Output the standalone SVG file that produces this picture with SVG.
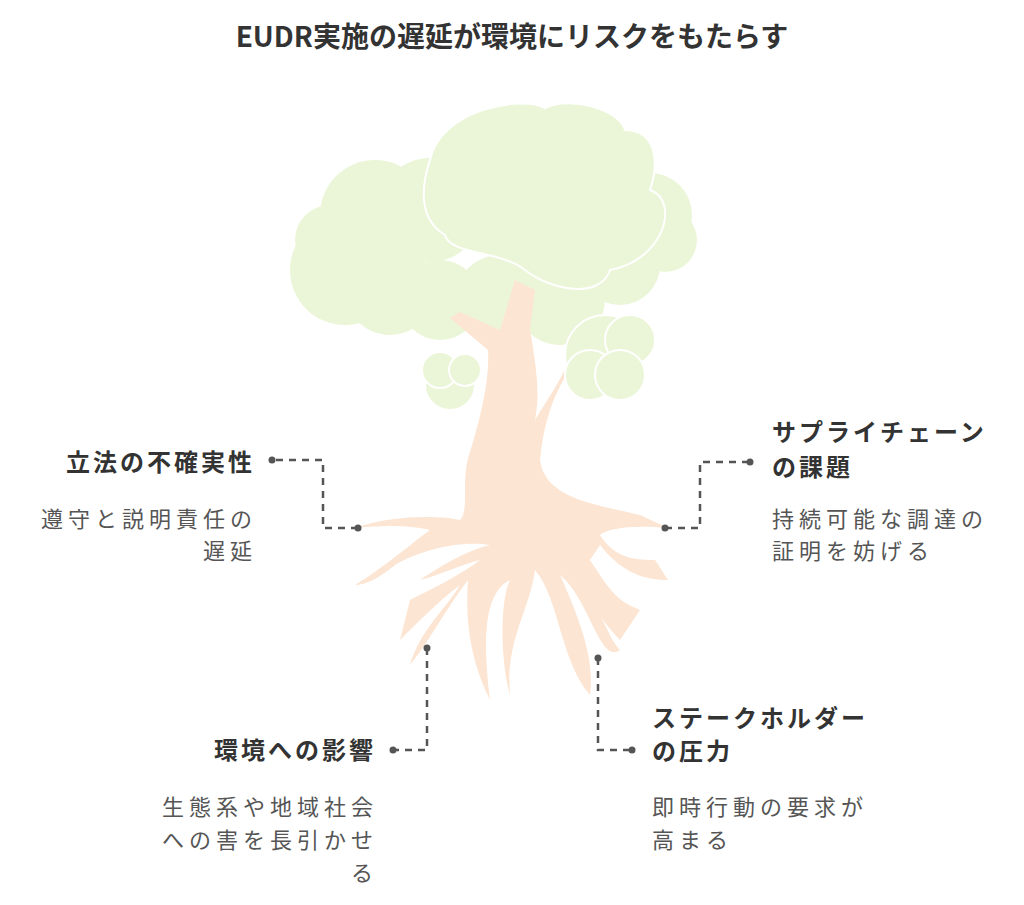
<svg xmlns="http://www.w3.org/2000/svg" width="1024" height="905" viewBox="0 0 1024 905">
<style>
.t{font-family:"Noto Sans CJK JP","Noto Sans",sans-serif;font-weight:700;font-size:24px;letter-spacing:3px;fill:#333}
.d{font-family:"Noto Sans CJK JP","Noto Sans",sans-serif;font-size:22px;letter-spacing:5px;fill:#555}
.c{fill:none;stroke:#555;stroke-width:2.5;stroke-dasharray:7 6}
.f{fill:#ebf6d8}
.fs{fill:#ebf6d8;stroke:#fff;stroke-width:2}
.tr{fill:#fce5d2}
</style>
<rect width="1024" height="905" fill="#fff"/>
<text x="512" y="47" text-anchor="middle" class="t" style="font-size:28px;letter-spacing:0">EUDR実施の遅延が環境にリスクをもたらす</text>
<g id="tree">
<g class="f">
<circle cx="375" cy="215" r="55"/><circle cx="430" cy="210" r="52"/><circle cx="345" cy="270" r="55"/><circle cx="390" cy="290" r="45"/><circle cx="440" cy="300" r="40"/><circle cx="330" cy="240" r="35"/>
<circle cx="500" cy="300" r="45"/><circle cx="560" cy="300" r="45"/><circle cx="620" cy="265" r="40"/><circle cx="650" cy="215" r="42"/><circle cx="665" cy="240" r="32"/>
</g>
<path class="tr" d="M470 452 C480 420 490 380 488 350 L450 318 L460 312 L500 330 L515 280 L535 290 L530 330 C537 370 540 395 535 420 C550 395 565 375 575 345 L583 352 C560 380 545 410 540 460 C545 500 600 505 640 515 L668 528 C630 525 610 528 600 535 C615 560 640 560 655 560 L668 580 C640 580 620 570 600 545 L590 560 C610 590 615 600 640 610 L620 640 C600 620 590 600 580 580 C605 620 610 640 620 650 C600 665 590 600 560 575 C580 620 595 660 590 695 C560 660 560 600 535 570 C530 610 505 640 510 695 C500 660 500 600 510 580 C490 590 480 620 490 700 C470 660 465 620 468 580 C445 610 430 640 410 665 C420 630 445 610 460 585 C440 600 420 620 400 640 L410 600 C440 585 460 575 480 560 C460 565 440 575 420 580 C450 560 470 550 490 545 C460 540 420 550 395 565 C380 578 365 585 355 585 C380 570 410 545 430 530 C410 525 380 525 355 528 C390 515 440 515 460 520 C470 510 460 480 470 452 Z"/>
<g class="fs">
<path d="M430 160 C440 110 520 95 545 108 C570 95 620 110 625 130 C655 130 660 160 650 190 C680 200 665 260 610 270 C600 300 550 290 525 270 C500 250 450 255 445 235 C420 220 420 190 430 160 Z"/>
<circle cx="450" cy="385" r="25"/><circle cx="440" cy="370" r="18"/><circle cx="465" cy="370" r="16"/>
<circle cx="605" cy="355" r="40"/><circle cx="630" cy="340" r="25"/><circle cx="590" cy="375" r="25"/><circle cx="620" cy="375" r="25"/>
</g>
</g>
<g id="connectors" fill="#555">
<path class="c" d="M358 528 H323 V460 H272"/><circle cx="358" cy="528" r="3.5"/><circle cx="272" cy="460" r="3.5"/>
<path class="c" d="M665 528 H700 V462 H750"/><circle cx="665" cy="528" r="3.5"/><circle cx="750" cy="462" r="3.5"/>
<path class="c" d="M427 648 V750 H393"/><circle cx="427" cy="648" r="3.5"/><circle cx="393" cy="750" r="3.5"/>
<path class="c" d="M598 658 V750 H632"/><circle cx="598" cy="658" r="3.5"/><circle cx="632" cy="750" r="3.5"/>
</g>
<g id="n1"><text x="255" y="471" text-anchor="end" class="t">立法の不確実性</text>
<text x="257" y="527" text-anchor="end" class="d">遵守と説明責任の</text><text x="257" y="559" text-anchor="end" class="d">遅延</text></g>
<g id="n2"><text x="772" y="441" class="t">サプライチェーン</text><text x="772" y="476" class="t">の課題</text>
<text x="772" y="527" class="d">持続可能な調達の</text><text x="772" y="559" class="d">証明を妨げる</text></g>
<g id="n3"><text x="376" y="759" text-anchor="end" class="t">環境への影響</text>
<text x="378" y="815" text-anchor="end" class="d">生態系や地域社会</text><text x="378" y="848" text-anchor="end" class="d">への害を長引かせ</text><text x="378" y="881" text-anchor="end" class="d">る</text></g>
<g id="n4"><text x="652" y="727" class="t">ステークホルダー</text><text x="652" y="760" class="t">の圧力</text>
<text x="652" y="815" class="d">即時行動の要求が</text><text x="652" y="848" class="d">高まる</text></g>
</svg>
